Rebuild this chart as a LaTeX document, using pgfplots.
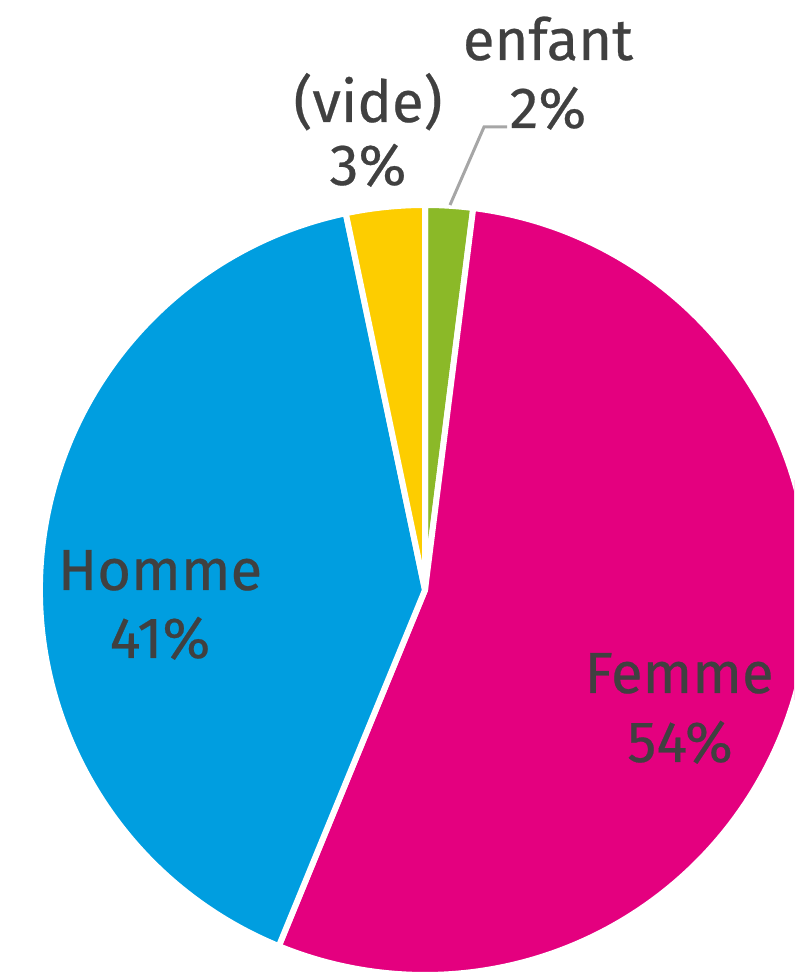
\documentclass[border=0pt]{standalone}
\usepackage{pgfplots}
\usepackage{pgfplotstable}
\pgfplotsset{compat=1.18}
\usepackage{fontspec}
\setmainfont{Fira Sans}
\newfontfamily\lab{Fira Sans}[FakeBold=0.4]
\definecolor{cEnf}{RGB}{139,185,40}
\definecolor{cFem}{RGB}{228,0,127}
\definecolor{cHom}{RGB}{0,158,224}
\definecolor{cVide}{RGB}{253,205,0}
\definecolor{txt}{RGB}{64,64,64}
\definecolor{lead}{RGB}{166,166,166}
\pgfplotstableread{
label value color
enfant 2.0 cEnf
Femme 54.2 cFem
Homme 40.5 cHom
vide 3.3 cVide
}\piedata
\begin{document}
\begin{tikzpicture}
\begin{axis}[scale only axis, width=397pt, height=486.5pt,
  xmin=0, xmax=794, ymin=0, ymax=973, hide axis, clip=true]
\coordinate (BL) at (rel axis cs:0,0);
\coordinate (TR) at (rel axis cs:1,1);
\pgfplotstablegetrowsof{\piedata}
\pgfmathtruncatemacro{\N}{\pgfplotsretval-1}
\def\cur{90}
\pgfplotsforeachungrouped \i in {0,...,\N}{%
  \pgfplotstablegetelem{\i}{value}\of\piedata \let\v\pgfplotsretval
  \pgfplotstablegetelem{\i}{color}\of\piedata \let\c\pgfplotsretval
  \pgfmathsetmacro{\nxt}{\cur-3.6*\v}%
  \edef\temp{\noexpand\fill[\c, draw=white, line width=3pt, line join=round] (axis cs:425,383) -- ++(\cur:192.5pt) arc[start angle=\cur, end angle=\nxt, radius=192.5pt] -- cycle;}%
  \temp
  \global\let\cur\nxt
}
\draw[lead, line width=1.5pt] (axis cs:450,768) -- (axis cs:484,846) -- (axis cs:507,846);
\begin{scope}[every node/.style={text=txt, font=\lab\fontsize{29}{34}\selectfont, anchor=base, inner sep=0pt}]
\node at (axis cs:548,913) {enfant};
\node at (axis cs:548,845) {2\%};
\node at (axis cs:368,851) {(vide)};
\node at (axis cs:368,788) {3\%};
\node at (axis cs:160,383) {Homme};
\node at (axis cs:160,315) {41\%};
\node at (axis cs:679,280) {Femme};
\node at (axis cs:680,211) {54\%};
\end{scope}
\end{axis}
\pgfresetboundingbox
\useasboundingbox (BL) rectangle (TR);
\end{tikzpicture}
\end{document}
